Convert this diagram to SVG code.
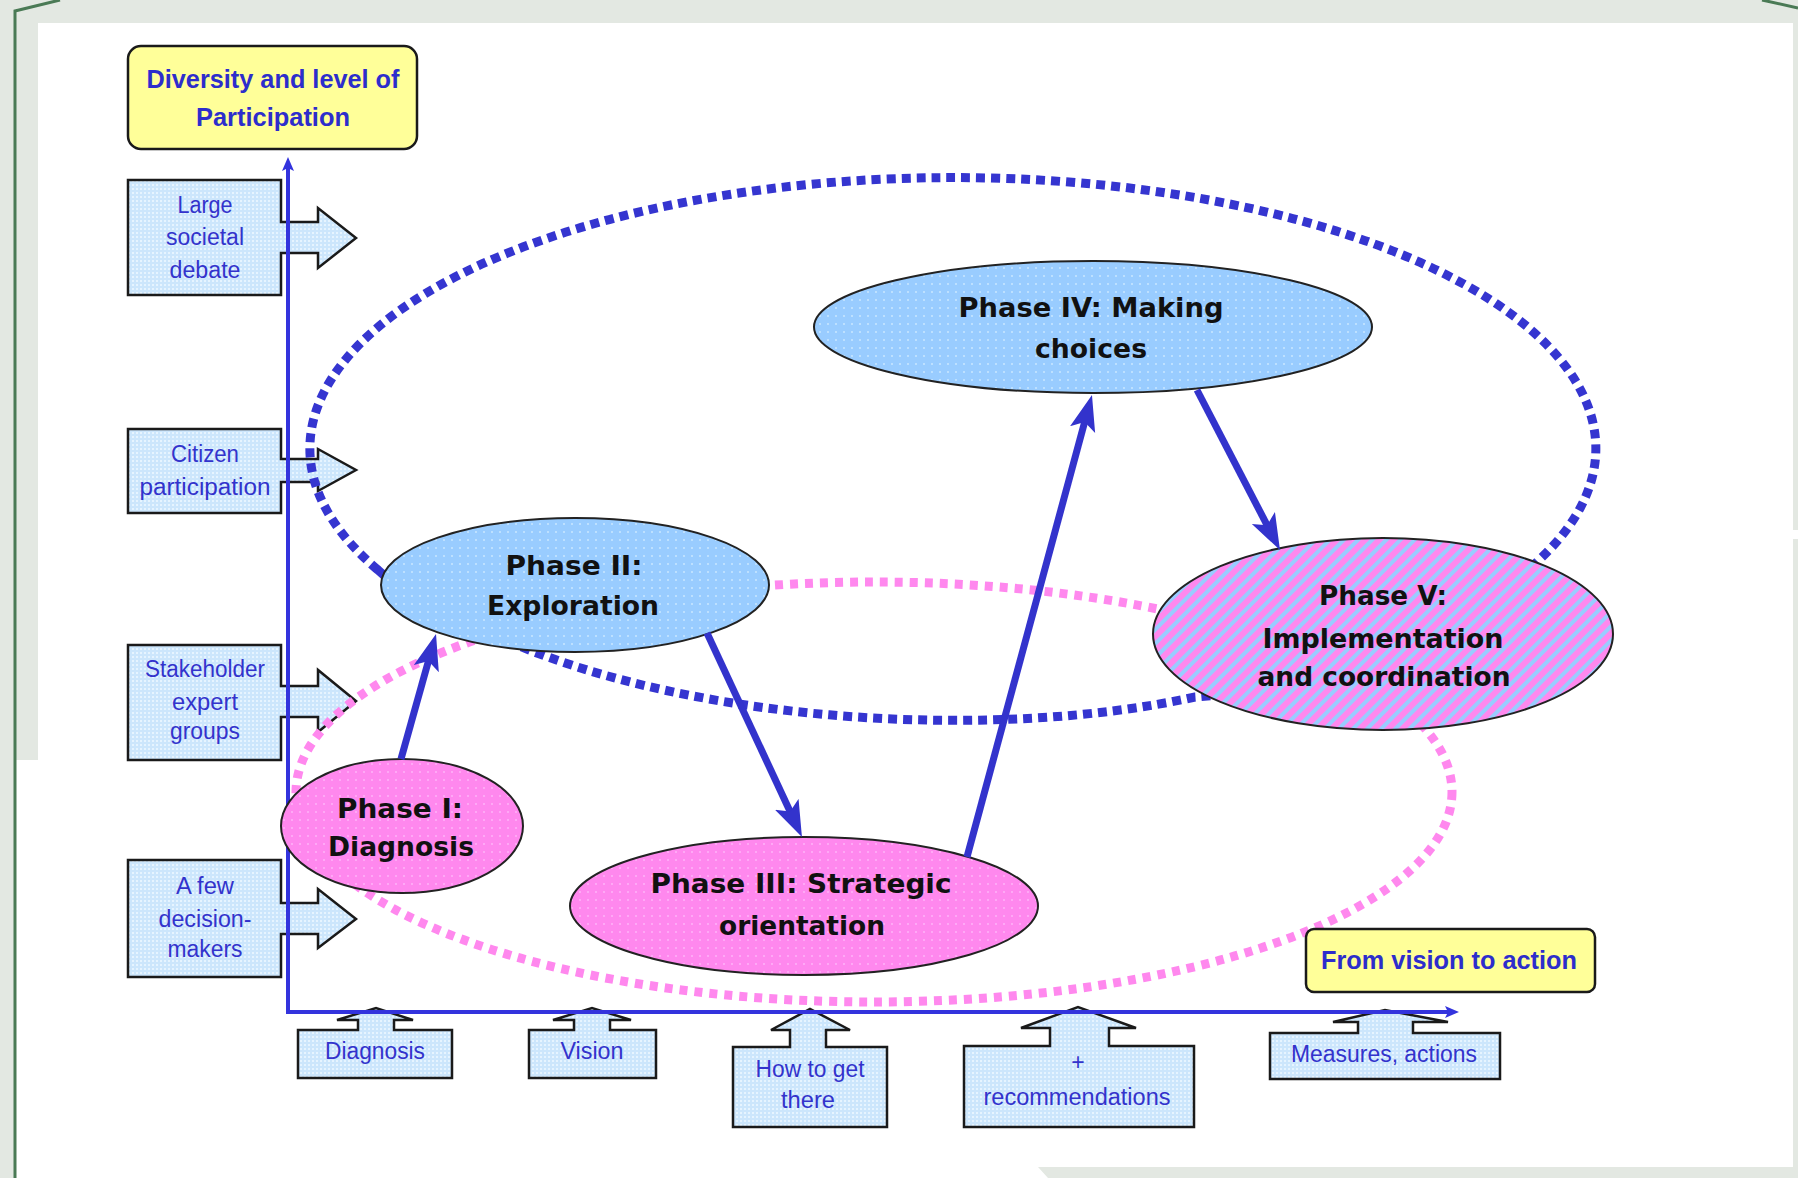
<svg xmlns="http://www.w3.org/2000/svg" width="1798" height="1178" viewBox="0 0 1798 1178">
<defs>
<style>
.bx{fill:url(#bxDots);stroke:#1a1a1a;stroke-width:2.5}
.bt{font-family:"Liberation Sans",Arial,sans-serif;font-size:23px;fill:#3333cc;text-anchor:middle}
.et{font-family:"DejaVu Sans",Verdana,sans-serif;font-weight:bold;font-size:27px;fill:#111;text-anchor:middle}
.yb{fill:#ffff99;stroke:#1a1a1a;stroke-width:2.5}
.yt{font-family:"Liberation Sans",Arial,sans-serif;font-weight:bold;font-size:26px;fill:#2d2dcc;text-anchor:middle}
.el{stroke:#222;stroke-width:2}
.cn{stroke:#3333cc;stroke-width:7;fill:none;marker-end:url(#ah)}
.ax{stroke:#3333dd;stroke-width:4;fill:none;marker-end:url(#axh)}
</style>
<pattern id="pkDots" width="8" height="8" patternUnits="userSpaceOnUse"><rect width="8" height="8" fill="#ff88ee"/><rect x="3" y="3" width="2" height="2" fill="#ffa8f6"/></pattern>
<pattern id="blDots" width="8" height="8" patternUnits="userSpaceOnUse"><rect width="8" height="8" fill="#99ccff"/><rect x="3" y="3" width="2" height="2" fill="#bde0ff"/></pattern>
<pattern id="bxDots" width="4" height="4" patternUnits="userSpaceOnUse"><rect width="4" height="4" fill="#cce6fc"/><rect width="2" height="2" fill="#e6f4ff"/></pattern>
<pattern id="hatch" width="10" height="10" patternUnits="userSpaceOnUse" patternTransform="rotate(45)"><rect width="10" height="10" fill="#ff88ee"/><rect width="4" height="10" fill="#99ccff"/></pattern>
<marker id="ah" markerUnits="userSpaceOnUse" markerWidth="40" markerHeight="30" refX="20" refY="13" orient="auto"><path d="M0,0 L36,13 L0,26 L8,13 Z" fill="#3333cc"/></marker>
<marker id="axh" markerUnits="userSpaceOnUse" markerWidth="16" markerHeight="14" refX="6" refY="6" orient="auto"><path d="M0,0 L14,6 L0,12 L3,6 Z" fill="#3333dd"/></marker>
</defs>

<g id="background">
<rect width="1798" height="1178" fill="#e3e8e2"/>
<rect x="38" y="23" width="1755" height="1144" fill="#ffffff"/>
<polygon points="16,760 38,760 38,1167 1038,1167 1048,1178 16,1178" fill="#ffffff"/>
<rect x="1793" y="530" width="5" height="9" fill="#ffffff"/>
<path d="M60,0 L15,11 L15,1178" fill="none" stroke="#4a7a55" stroke-width="3"/>
<path d="M1762,0 Q1780,4 1798,8" fill="none" stroke="#4a7a55" stroke-width="3"/>
</g>

<g id="left-boxes">
<g id="box-large">
<polygon class="bx" points="128,180 281,180 281,222 318,222 318,208 356,238 318,268 318,253 281,253 281,295 128,295"/>
<text class="bt" x="205" y="213" textLength="55" lengthAdjust="spacingAndGlyphs">Large</text>
<text class="bt" x="205" y="245" textLength="78" lengthAdjust="spacingAndGlyphs">societal</text>
<text class="bt" x="205" y="278" textLength="71" lengthAdjust="spacingAndGlyphs">debate</text>
</g>
<g id="box-citizen">
<polygon class="bx" points="128,429 281,429 281,459 318,459 318,449 356,470 318,491 318,482 281,482 281,513 128,513"/>
<text class="bt" x="205" y="462" textLength="68" lengthAdjust="spacingAndGlyphs">Citizen</text>
<text class="bt" x="205" y="495" textLength="131" lengthAdjust="spacingAndGlyphs">participation</text>
</g>
<g id="box-stakeholder">
<polygon class="bx" points="128,645 281,645 281,686 318,686 318,670 356,701 318,732 318,717 281,717 281,760 128,760"/>
<text class="bt" x="205" y="677" textLength="120" lengthAdjust="spacingAndGlyphs">Stakeholder</text>
<text class="bt" x="205" y="710" textLength="66" lengthAdjust="spacingAndGlyphs">expert</text>
<text class="bt" x="205" y="739" textLength="70" lengthAdjust="spacingAndGlyphs">groups</text>
</g>
<g id="box-few">
<polygon class="bx" points="128,860 281,860 281,903 318,903 318,889 356,919 318,948 318,934 281,934 281,977 128,977"/>
<text class="bt" x="205" y="894" textLength="58" lengthAdjust="spacingAndGlyphs">A few</text>
<text class="bt" x="205" y="927" textLength="93" lengthAdjust="spacingAndGlyphs">decision-</text>
<text class="bt" x="205" y="957" textLength="75" lengthAdjust="spacingAndGlyphs">makers</text>
</g>
</g>

<g id="bottom-boxes">
<g id="box-diagnosis">
<polygon class="bx" points="298,1030 358,1030 358,1020 337,1020 376,1008 413,1020 394,1020 394,1030 452,1030 452,1078 298,1078"/>
<text class="bt" x="375" y="1059" textLength="100" lengthAdjust="spacingAndGlyphs">Diagnosis</text>
</g>
<g id="box-vision">
<polygon class="bx" points="529,1030 574,1030 574,1020 553,1020 592,1008 631,1020 610,1020 610,1030 656,1030 656,1078 529,1078"/>
<text class="bt" x="592" y="1059" textLength="63" lengthAdjust="spacingAndGlyphs">Vision</text>
</g>
<g id="box-howto">
<polygon class="bx" points="733,1047 790,1047 790,1030 771,1030 810,1009 850,1030 826,1030 826,1047 887,1047 887,1127 733,1127"/>
<text class="bt" x="810" y="1077" textLength="109" lengthAdjust="spacingAndGlyphs">How to get</text>
<text class="bt" x="808" y="1108" textLength="54" lengthAdjust="spacingAndGlyphs">there</text>
</g>
<g id="box-recommendations">
<polygon class="bx" points="964,1046 1050,1046 1050,1028 1021,1028 1078,1007 1136,1028 1109,1028 1109,1046 1194,1046 1194,1127 964,1127"/>
<text class="bt" x="1078" y="1070">+</text>
<text class="bt" x="1077" y="1105" textLength="187" lengthAdjust="spacingAndGlyphs">recommendations</text>
</g>
<g id="box-measures">
<polygon class="bx" points="1270,1033 1358,1033 1358,1022 1333,1022 1385,1010 1448,1022 1413,1022 1413,1033 1500,1033 1500,1079 1270,1079"/>
<text class="bt" x="1384" y="1062" textLength="186" lengthAdjust="spacingAndGlyphs">Measures, actions</text>
</g>
</g>

<g id="axes">
<line class="ax" x1="288" y1="1012" x2="288" y2="165"/>
<line class="ax" x1="286" y1="1012" x2="1451" y2="1012"/>
</g>

<g id="loops" fill="none" stroke-width="9">
<path d="M378,570 A643,271 0 1 1 1539,560 C1450,650 1300,690 1195,697 C1000,740 700,725 505,640 C450,620 400,590 378,570 Z" stroke="#3535d0" stroke-dasharray="9 6"/>
<ellipse cx="874" cy="792" rx="578" ry="210" stroke="#ff88ee" stroke-dasharray="8 7"/>
</g>

<g id="phase1">
<ellipse class="el" cx="402" cy="826" rx="121" ry="67" fill="url(#pkDots)"/>
<text class="et" x="400" y="818" textLength="126" lengthAdjust="spacingAndGlyphs">Phase I:</text>
<text class="et" x="401" y="856" textLength="146" lengthAdjust="spacingAndGlyphs">Diagnosis</text>
</g>
<g id="phase2">
<ellipse class="el" cx="575" cy="585" rx="194" ry="67" fill="url(#blDots)"/>
<text class="et" x="574" y="575" textLength="137" lengthAdjust="spacingAndGlyphs">Phase II:</text>
<text class="et" x="573" y="615" textLength="172" lengthAdjust="spacingAndGlyphs">Exploration</text>
</g>
<g id="phase3">
<ellipse class="el" cx="804" cy="906" rx="234" ry="69" fill="url(#pkDots)"/>
<text class="et" x="801" y="893" textLength="301" lengthAdjust="spacingAndGlyphs">Phase III: Strategic</text>
<text class="et" x="802" y="935" textLength="166" lengthAdjust="spacingAndGlyphs">orientation</text>
</g>
<g id="phase4">
<ellipse class="el" cx="1093" cy="327" rx="279" ry="66" fill="url(#blDots)"/>
<text class="et" x="1091" y="317" textLength="265" lengthAdjust="spacingAndGlyphs">Phase IV: Making</text>
<text class="et" x="1091" y="358" textLength="112" lengthAdjust="spacingAndGlyphs">choices</text>
</g>
<g id="phase5">
<ellipse class="el" cx="1383" cy="634" rx="230" ry="96" fill="url(#hatch)"/>
<text class="et" x="1383" y="605" textLength="128" lengthAdjust="spacingAndGlyphs">Phase V:</text>
<text class="et" x="1383" y="648" textLength="241" lengthAdjust="spacingAndGlyphs">Implementation</text>
<text class="et" x="1384" y="686" textLength="253" lengthAdjust="spacingAndGlyphs">and coordination</text>
</g>

<g id="connectors">
<line class="cn" x1="401" y1="759" x2="431.7" y2="649.4"/>
<line class="cn" x1="707" y1="633" x2="795.2" y2="822.5"/>
<line class="cn" x1="967" y1="857" x2="1087.8" y2="410.4"/>
<line class="cn" x1="1197" y1="390" x2="1272.6" y2="535.8"/>
</g>

<g id="title">
<rect class="yb" x="128" y="46" width="289" height="103" rx="13"/>
<text class="yt" x="273" y="88" textLength="253" lengthAdjust="spacingAndGlyphs">Diversity and level of</text>
<text class="yt" x="273" y="126" textLength="154" lengthAdjust="spacingAndGlyphs">Participation</text>
</g>
<g id="vision-to-action">
<rect class="yb" x="1306" y="929" width="289" height="63" rx="8"/>
<text class="yt" x="1449" y="969" textLength="256" lengthAdjust="spacingAndGlyphs">From vision to action</text>
</g>
</svg>
